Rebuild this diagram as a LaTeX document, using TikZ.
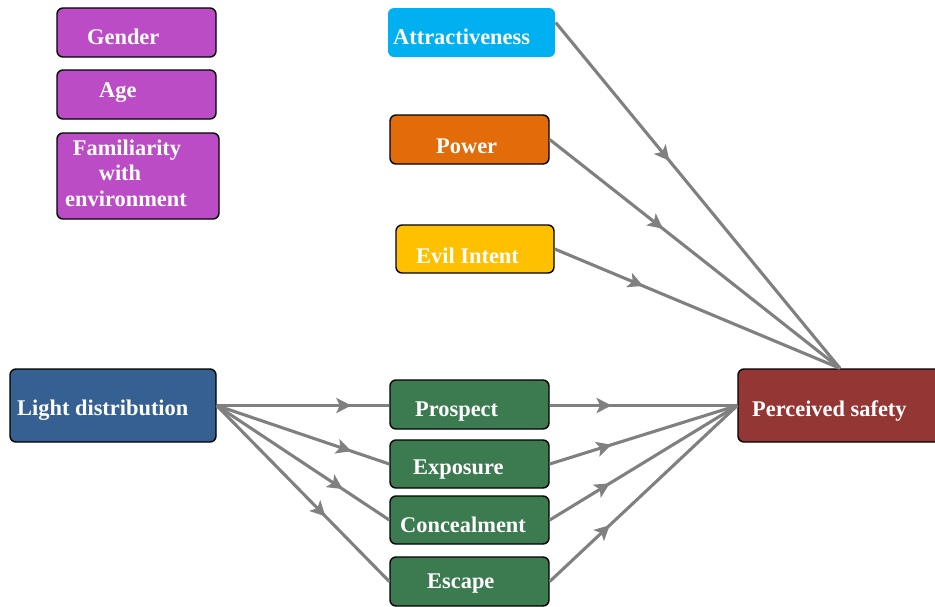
\documentclass[tikz,border=0pt]{standalone}
\usepackage{fontspec}
\setmainfont{Liberation Serif}
\usetikzlibrary{arrows.meta,decorations.markings}
\definecolor{cpurple}{HTML}{BB4CC6}
\definecolor{ccyan}{HTML}{00B0F0}
\definecolor{corange}{HTML}{E36C0A}
\definecolor{cyellow}{HTML}{FFC000}
\definecolor{cblue}{HTML}{366092}
\definecolor{cgreen}{HTML}{3C7A50}
\definecolor{cred}{HTML}{943634}
\definecolor{cline}{HTML}{808080}
\tikzset{
  box/.style={draw=black, line width=1.4pt, rounded corners=6pt, inner sep=0pt},
  lbl/.style={text=white, font=\fontsize{22.4}{26}\selectfont\bfseries, inner sep=0pt, anchor=base west},
  conn/.style={draw=cline, line width=3.1pt, postaction={decorate},
    decoration={markings, mark=at position #1 with {\arrow{Stealth[length=15pt,width=15pt,inset=3.5pt]}}}}
}
\begin{document}
\begin{tikzpicture}[x=1pt,y=-1pt]
\useasboundingbox (0,0) rectangle (935,606);
% boxes
\node[box, fill=cpurple, minimum width=159pt, minimum height=49pt] (gender) at (136.5,32.5) {};
\node[box, fill=cpurple, minimum width=159pt, minimum height=49pt] (age) at (136.5,94.5) {};
\node[box, fill=cpurple, minimum width=162pt, minimum height=86pt] (fam) at (138,176) {};
\node[box, draw=none, fill=ccyan, minimum width=167pt, minimum height=49pt] (attr) at (471.5,32.5) {};
\node[box, fill=corange, minimum width=159pt, minimum height=49pt] (power) at (469.5,139.5) {};
\node[box, fill=cyellow, minimum width=158pt, minimum height=48pt] (evil) at (475,249) {};
\node[box, fill=cblue, minimum width=206pt, minimum height=73pt] (light) at (113,405.5) {};
\node[box, fill=cgreen, minimum width=159pt, minimum height=49pt] (prospect) at (469.5,404.5) {};
\node[box, fill=cgreen, minimum width=159pt, minimum height=48pt] (exposure) at (469.5,464) {};
\node[box, fill=cgreen, minimum width=159pt, minimum height=48pt] (conceal) at (469.5,520) {};
\node[box, fill=cgreen, minimum width=159pt, minimum height=49pt] (escape) at (469.5,581.5) {};
\node[box, fill=cred, minimum width=204pt, minimum height=73pt] (safety) at (840,405.5) {};
% labels
\node[lbl] (tgender) at (87,44) {Gender};
\node[lbl] (tage) at (99,97) {Age};
\node[lbl, anchor=base] (tfam1) at (127,155) {Familiarity};
\node[lbl, anchor=base] (tfam2) at (120,180.5) {with};
\node[lbl, anchor=base] (tfam3) at (126,206) {environment};
\node[lbl] (tattr) at (393,44) {Attractiveness};
\node[lbl] (tpower) at (436,153) {Power};
\node[lbl] (tevil) at (416,263) {Evil Intent};
\node[lbl] (tlight) at (17,415) {Light distribution};
\node[lbl] (tprospect) at (415,416) {Prospect};
\node[lbl] (texposure) at (413,474) {Exposure};
\node[lbl] (tconceal) at (400,532) {Concealment};
\node[lbl] (tescape) at (427,588.5) {Escape};
\node[lbl] (tsafety) at (752,416) {Perceived safety};
% connectors
\draw[conn=0.78] (light.east) -- (light.east -| prospect.west);
\draw[conn=0.78] (light.east) -- (exposure.west);
\draw[conn=0.73] (light.east) -- (conceal.west);
\draw[conn=0.63] (light.east) -- (escape.west);
\draw[conn=0.33] (safety.west -| prospect.east) -- (safety.west);
\draw[conn=0.33] (exposure.east) -- (safety.west);
\draw[conn=0.32] (conceal.east) -- (safety.west);
\draw[conn=0.32] (escape.east) -- (safety.west);
\draw[conn=0.40] ([yshift=10pt]attr.east) -- (safety.north);
\draw[conn=0.39] (power.east) -- (safety.north);
\draw[conn=0.31] (evil.east) -- (safety.north);
\end{tikzpicture}
\end{document}
